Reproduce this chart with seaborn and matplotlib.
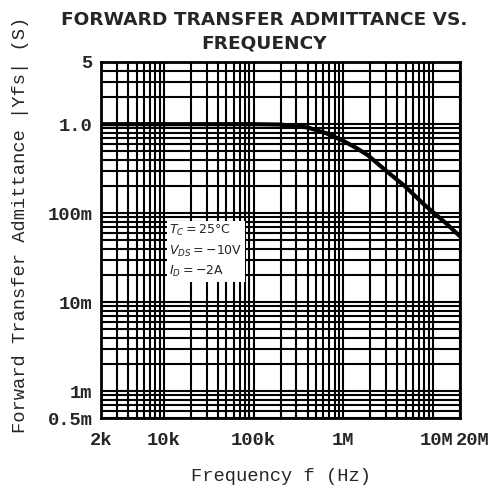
import numpy as np
import pandas as pd
import matplotlib
matplotlib.use("Agg")
import matplotlib.pyplot as plt
import matplotlib.transforms as mtransforms
import seaborn as sns
from matplotlib.ticker import FixedLocator, LogLocator, NullFormatter, FixedFormatter

# Data
freq_hz = [2e3, 2e4, 1e5, 2.0e5, 4.0e5, 6.5e5, 1.0e6, 1.4e6, 1.87e6, 3.0e6, 4.9e6, 7.9e6, 1.4e7, 2.0e7]
yfs_s = [1.0, 1.0, 1.0, 0.99, 0.92, 0.79, 0.65, 0.54, 0.45, 0.30, 0.20, 0.126, 0.077, 0.055]

x_ticks = [2e3, 1e4, 1e5, 1e6, 1e7, 2e7]
x_tick_labels = ["2k", "10k", "100k", "1M", "10M", "20M"]
y_ticks = [5, 1.0, 0.1, 0.01, 0.001, 0.0005]
y_tick_labels = ["5", "1.0", "100m", "10m", "1m", "0.5m"]

df = pd.DataFrame({"f": freq_hz, "yfs": yfs_s})

sns.set_style("white")
mono = ["Liberation Mono", "DejaVu Sans Mono"]

fig = plt.figure(figsize=(4.93, 4.88), dpi=100)
ax = fig.add_axes([0.205, 0.1434, 0.728, 0.7296])

sns.lineplot(data=df, x="f", y="yfs", ax=ax, color="black", linewidth=3)
ax.set_xscale("log")
ax.set_yscale("log")
ax.set_xlim(2e3, 2e7)
ax.set_ylim(5e-4, 5)

ax.xaxis.set_major_locator(FixedLocator(x_ticks))
ax.xaxis.set_major_formatter(FixedFormatter(x_tick_labels))
ax.yaxis.set_major_locator(FixedLocator(y_ticks))
ax.yaxis.set_major_formatter(FixedFormatter(y_tick_labels))
ax.xaxis.set_minor_locator(LogLocator(base=10, subs=np.arange(1, 10), numticks=100))
ax.yaxis.set_minor_locator(LogLocator(base=10, subs=np.arange(1, 10), numticks=100))
ax.xaxis.set_minor_formatter(NullFormatter())
ax.yaxis.set_minor_formatter(NullFormatter())

ax.grid(True, which="minor", color="black", linewidth=1.5)
ax.grid(True, which="major", color="black", linewidth=1.5)
ax.set_axisbelow(True)

ax.tick_params(axis="both", which="both", length=0)
ax.tick_params(axis="x", which="major", pad=10)
ax.tick_params(axis="y", which="major", pad=6)
for lab in ax.get_xticklabels() + ax.get_yticklabels():
    lab.set_family(mono)
    lab.set_fontsize(13.5)
    lab.set_fontweight("bold")

# nudge the crowded 10M / 20M labels apart like the reference
xl = ax.get_xticklabels()
xl[4].set_transform(xl[4].get_transform() + mtransforms.ScaledTranslation(4 / 100, 0, fig.dpi_scale_trans))
xl[5].set_transform(xl[5].get_transform() + mtransforms.ScaledTranslation(13 / 100, 0, fig.dpi_scale_trans))

for s in ax.spines.values():
    s.set_color("black")
    s.set_linewidth(2)

ax.set_xlabel("Frequency f (Hz)", family=mono, fontsize=13.5, labelpad=14)
ax.set_ylabel("")
fig.text(0.042, 0.54, "Forward Transfer Admittance |Yfs| (S)", rotation=90,
         ha="center", va="center", family=mono, fontsize=13.5)

fig.text(0.535, 0.935, "FORWARD TRANSFER ADMITTANCE VS.\nFREQUENCY", ha="center",
         va="center", fontsize=13.3, fontweight="bold", family="DejaVu Sans",
         linespacing=1.45)

ax.text(1.15e4, 0.018, "$T_C = 25$°C\n$V_{DS} = -10$V\n$I_D = -2$A",
        fontsize=9, family="DejaVu Sans", va="bottom", ha="left",
        linespacing=1.5,
        bbox=dict(facecolor="white", edgecolor="none", pad=1.5))

fig.savefig("out.png", dpi=100, facecolor="white")
